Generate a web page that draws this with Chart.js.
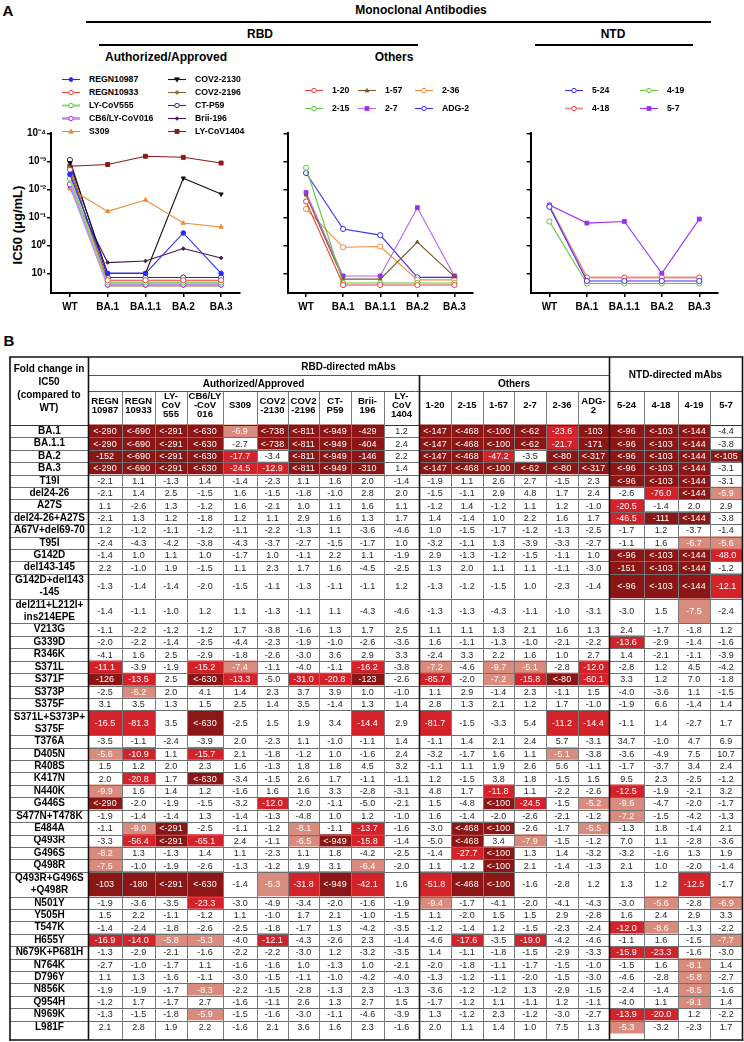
<!DOCTYPE html>
<html><head><meta charset="utf-8">
<script src="https://cdn.jsdelivr.net/npm/chart.js@4.4.1/dist/chart.umd.min.js"></script>
<style>
html,body{margin:0;padding:0;background:#fff;}
body{width:744px;height:1042px;position:relative;overflow:hidden;font-family:"Liberation Sans",Arial,sans-serif;color:#000;}
.t{position:absolute;font-weight:bold;white-space:nowrap;transform:translate(-50%,-50%);line-height:1;}
.hl{position:absolute;background:#000;height:2px;}
canvas{position:absolute;display:block;}
.leg{position:absolute;font-weight:bold;font-size:8.7px;white-space:nowrap;display:flex;align-items:center;height:10px;line-height:10px;}
.leg svg{flex:none;margin-right:9px;}
.hc{position:absolute;display:flex;align-items:center;justify-content:center;text-align:center;font-weight:bold;box-sizing:border-box;white-space:nowrap;}
</style></head><body>

<div class="t" style="left:8px;top:10px;font-size:15px;">A</div>
<div class="t" style="left:421px;top:10px;font-size:12px;">Monoclonal Antibodies</div>
<div class="hl" style="left:86px;top:21px;width:625px;"></div>
<div class="t" style="left:260px;top:34px;font-size:12px;">RBD</div>
<div class="hl" style="left:99px;top:44px;width:319px;"></div>
<div class="t" style="left:613px;top:34px;font-size:12px;">NTD</div>
<div class="hl" style="left:535px;top:44px;width:158px;"></div>
<div class="t" style="left:166px;top:57px;font-size:12px;">Authorized/Approved</div>
<div class="t" style="left:394px;top:57px;font-size:12px;">Others</div>
<div class="t" style="left:17px;top:225px;font-size:13px;transform:translate(-50%,-50%) rotate(-90deg);">IC50 (μg/mL)</div>
<div class="t" style="left:9px;top:340px;font-size:15px;">B</div>

<canvas id="c1" width="250" height="200" style="left:0;top:120px;width:250px;height:200px"></canvas>
<canvas id="c2" width="230" height="200" style="left:250px;top:120px;width:230px;height:200px"></canvas>
<canvas id="c3" width="264" height="200" style="left:480px;top:120px;width:264px;height:200px"></canvas>
<canvas id="tbl" width="744" height="695" style="left:0;top:355px;width:744px;height:695px"></canvas>

<script>
const FONT = '"Liberation Sans", Arial, Helvetica, sans-serif';
Chart.defaults.font.family = FONT;
Chart.defaults.color = '#000';

// ================= Panel A data (IC50, µg/mL) =================
const STRAINS = ['WT', 'BA.1', 'BA.1.1', 'BA.2', 'BA.3'];
const Y_TICKS = [1e-4, 1e-3, 1e-2, 1e-1, 1, 10];
const Y_TICK_LABELS = ['10\u207B\u2074', '10\u207B\u00B3', '10\u207B\u00B2', '10\u207B\u00B9', '10\u2070', '10\u00B9'];

// RBD – Authorized/Approved
const REGN10987  = [2.9e-3, 10, 10, 0.36, 10];
const REGN10933  = [2.0e-3, 17.5, 17.5, 17.5, 17.5];
const LY_COV555  = [4.1e-3, 21, 21, 21, 21];
const CB6        = [6.6e-3, 25, 25, 25, 25];
const S309       = [9.5e-3, 0.061, 0.024, 0.16, 0.22];
const COV2_2130  = [1.12e-3, 10, 10, 4.0e-3, 0.0148];
const COV2_2196  = [1.34e-3, 28, 28, 28, 28];
const CT_P59     = [8.9e-4, 14, 14, 14, 14];
const BRII_196   = [9.0e-3, 4.1, 3.6, 1.3, 2.8];
const LY_COV1404 = [1.5e-3, 1.3e-3, 6.6e-4, 7.2e-4, 1.15e-3];
// RBD – Others
const MAB_1_20 = [0.027, 26, 26, 26, 26];
const MAB_2_15 = [1.7e-3, 22, 22, 22, 22];
const MAB_1_57 = [0.016, 16, 16, 0.76, 13];
const MAB_2_7  = [0.013, 12.3, 12.3, 0.045, 12.3];
const MAB_2_36 = [0.05, 1.17, 1.1, 17, 17];
const ADG_2    = [2.6e-3, 0.26, 0.43, 13.8, 13.8];
// NTD
const MAB_5_24 = [0.042, 18.6, 18.6, 18.6, 18.6];
const MAB_4_18 = [0.039, 14, 14, 14, 14];
const MAB_4_19 = [0.14, 23, 23, 23, 23];
const MAB_5_7  = [0.036, 0.16, 0.14, 10, 0.115];

// ================= Panel B data (fold change in IC50) =================
const ANTIBODIES = [['REGN','10987'],['REGN','10933'],['LY-','CoV','555'],['CB6/LY','-CoV','016'],['S309'],
  ['COV2','-2130'],['COV2','-2196'],['CT-','P59'],['Brii-','196'],['LY-','CoV','1404'],
  ['1-20'],['2-15'],['1-57'],['2-7'],['2-36'],['ADG-','2'],['5-24'],['4-18'],['4-19'],['5-7']];
const VARIANTS = ['BA.1','BA.1.1','BA.2','BA.3','T19I','del24-26','A27S','del24-26+A27S','A67V+del69-70','T95I',
  'G142D','del143-145',['G142D+del143','-145'],['del211+L212I+','ins214EPE'],'V213G','G339D','R346K','S371L','S371F',
  'S373P','S375F',['S371L+S373P+','S375F'],'T376A','D405N','R408S','K417N','N440K','G446S','S477N+T478K','E484A',
  'Q493R','G496S','Q498R',['Q493R+G496S','+Q498R'],'N501Y','Y505H','T547K','H655Y','N679K+P681H','N764K','D796Y',
  'N856K','Q954H','N969K','L981F'];
const FOLD_OMICRON = [
  '<-290 <-690 <-291 <-630 -6.9 <-738 <-811 <-949 -429 1.2 <-147 <-468 <-100 <-62 -23.6 -103 <-96 <-103 <-144 -4.4',
  '<-290 <-690 <-291 <-630 -2.7 <-738 <-811 <-949 -404 2.4 <-147 <-468 <-100 <-62 -21.7 -171 <-96 <-103 <-144 -3.8',
  '-152 <-690 <-291 <-630 -17.7 -3.4 <-811 <-949 -146 2.2 <-147 <-468 -47.2 -3.5 <-80 <-317 <-96 <-103 <-144 <-105',
  '<-290 <-690 <-291 <-630 -24.5 -12.9 <-811 <-949 -310 1.4 <-147 <-468 <-100 <-62 <-80 <-317 <-96 <-103 <-144 -3.1'];
const FOLD_NTD = [
  '-2.1 1.1 -1.3 1.4 -1.4 -2.3 1.1 1.6 2.0 -1.4 -1.9 1.1 2.6 2.7 -1.5 2.3 <-96 <-103 <-144 -3.1',
  '-2.1 1.4 2.5 -1.5 1.6 -1.5 -1.8 -1.0 2.8 2.0 -1.5 -1.1 2.9 4.8 1.7 2.4 -2.6 -76.0 <-144 -5.9',
  '1.1 -2.6 1.3 -1.2 1.6 -2.1 1.0 1.1 1.6 1.1 -1.2 1.4 -1.2 1.1 1.2 -1.0 -20.5 -1.4 2.0 2.9',
  '-2.1 1.3 1.2 -1.8 1.2 1.1 2.9 1.6 1.3 1.7 1.4 -1.4 1.0 2.2 1.6 1.7 -46.5 -111 <-144 -3.8',
  '1.2 -1.2 -1.1 -1.2 -1.1 -2.2 -1.3 1.1 -3.6 -4.6 1.0 -1.5 -1.7 -1.2 -1.3 -2.5 -1.7 1.2 -3.7 -1.4',
  '-2.4 -4.3 -4.2 -3.8 -4.3 -3.7 -2.7 -1.5 -1.7 1.0 -3.2 -1.1 1.3 -3.9 -3.3 -2.7 -1.1 1.6 -6.7 -5.6',
  '-1.4 1.0 1.1 1.0 -1.7 1.0 -1.1 2.2 1.1 -1.9 2.9 -1.3 -1.2 -1.5 -1.1 1.0 <-96 <-103 <-144 -48.0',
  '2.2 -1.0 1.9 -1.5 1.1 2.3 1.7 1.6 -4.5 -2.5 1.3 2.0 1.1 1.1 -1.1 -3.0 -151 <-103 <-144 -1.2',
  '-1.3 -1.4 -1.4 -2.0 -1.5 -1.1 -1.3 -1.1 -1.1 1.2 -1.3 -1.2 -1.5 1.0 -2.3 -1.4 <-96 <-103 <-144 -12.1',
  '-1.4 -1.1 -1.0 1.2 1.1 -1.3 -1.1 1.1 -4.3 -4.6 -1.3 -1.3 -4.3 -1.1 -1.0 -3.1 -3.0 1.5 -7.5 -2.4',
  '-1.1 -2.2 -1.2 -1.2 1.7 -3.8 -1.6 1.3 1.7 2.5 1.1 1.1 1.3 2.1 1.6 1.3 2.4 -1.7 -1.8 1.2'];
const FOLD_RBD = [
  '-2.0 -2.2 -1.4 -2.5 -4.4 -2.3 -1.9 -1.0 -2.6 -3.6 1.6 -1.1 -1.3 -1.0 -2.1 -2.2 -13.6 -2.9 -1.4 -1.6',
  '-4.1 1.6 2.5 -2.9 -1.8 -2.6 -3.0 3.6 2.9 3.3 -2.4 3.3 2.2 1.6 1.0 2.7 1.4 -2.1 -1.1 -3.9',
  '-11.1 -3.9 -1.9 -15.2 -7.4 -1.1 -4.0 -1.1 -16.2 -3.8 -7.2 -4.6 -9.7 -5.1 -2.8 -12.0 -2.8 1.2 4.5 -4.2',
  '-126 -13.5 2.5 <-630 -13.3 -5.0 -31.0 -20.8 -123 -2.6 -85.7 -2.0 -7.2 -15.8 <-80 -60.1 3.3 1.2 7.0 -1.8',
  '-2.5 -5.2 2.0 4.1 1.4 2.3 3.7 3.9 1.0 -1.0 1.1 2.9 -1.4 2.3 -1.1 1.5 -4.0 -3.6 1.1 -1.5',
  '3.1 3.5 1.3 1.5 2.5 1.4 3.5 -1.4 1.3 1.4 2.8 1.3 2.1 1.2 1.7 -1.0 -1.9 6.6 -1.4 1.4',
  '-16.5 -81.3 3.5 <-630 -2.5 1.5 1.9 3.4 -14.4 2.9 -81.7 -1.5 -3.3 5.4 -11.2 -14.4 -1.1 1.4 -2.7 1.7',
  '-3.5 -1.1 -2.4 -3.9 2.0 -2.3 1.1 -1.0 -1.1 1.4 -1.1 1.4 2.1 2.4 5.7 -3.1 34.7 -1.0 4.7 6.9',
  '-5.6 -10.9 1.1 -15.7 2.1 -1.8 -1.2 1.0 -1.6 2.4 -3.2 -1.7 1.6 1.1 -5.1 -3.8 -3.6 -4.9 7.5 10.7',
  '1.5 1.2 2.0 2.3 1.6 -1.3 1.8 1.8 4.5 3.2 -1.1 1.1 1.9 2.6 5.6 -1.1 -1.7 -3.7 3.4 2.4',
  '2.0 -20.8 1.7 <-630 -3.4 -1.5 2.6 1.7 -1.1 -1.1 1.2 -1.5 3.8 1.8 -1.5 1.5 9.5 2.3 -2.5 -1.2',
  '-9.9 1.6 1.4 1.2 -1.6 1.6 1.6 3.3 -2.8 -3.1 4.8 1.7 -11.8 1.1 -2.2 -2.6 -12.5 -1.9 -2.1 3.2',
  '<-290 -2.0 -1.9 -1.5 -3.2 -12.0 -2.0 -1.1 -5.0 -2.1 1.5 -4.8 <-100 -24.5 -1.5 -5.2 -9.6 -4.7 -2.0 -1.7',
  '-1.9 -1.4 -1.4 1.3 -1.4 -1.3 -4.8 1.0 1.2 -1.0 1.6 -1.4 -2.0 -2.6 -2.1 -1.2 -7.2 -1.5 -4.2 -1.3',
  '-1.1 -9.0 <-291 -2.5 -1.1 -1.2 -8.1 -1.1 -13.7 -1.6 -3.0 <-468 <-100 -2.6 -1.7 -5.5 -1.3 1.8 -1.4 2.1',
  '-3.3 -56.4 <-291 -65.1 2.4 -1.1 -6.5 <-949 -15.8 -1.4 -5.0 <-468 3.4 -7.9 -1.5 -1.2 7.0 1.1 -2.8 -3.6',
  '-8.2 1.3 -1.3 1.4 1.1 -2.3 1.1 1.8 -4.2 -2.5 -1.4 -27.7 <-100 1.3 1.4 -3.2 -3.2 -1.6 1.3 1.9',
  '-7.5 -1.0 -1.9 -2.6 -1.3 -1.2 1.9 3.1 -6.4 -2.0 1.1 -1.2 <-100 2.1 -1.4 -1.3 2.1 1.0 -2.0 -1.4',
  '-103 -180 <-291 <-630 -1.4 -5.3 -31.8 <-949 -42.1 1.6 -51.8 <-468 <-100 -1.6 -2.8 1.2 1.3 1.2 -12.5 -1.7',
  '-1.9 -3.6 -3.5 -23.3 -3.0 -4.9 -3.4 -2.0 -1.6 -1.9 -9.4 -1.7 -4.1 -2.0 -4.1 -4.3 -3.0 -5.6 -2.8 -6.9',
  '1.5 2.2 -1.1 -1.2 1.1 -1.0 1.7 2.1 -1.0 -1.5 1.1 -2.0 1.5 1.5 2.9 -2.8 1.6 2.4 2.9 3.3'];
const FOLD_S2 = [
  '-1.4 -2.4 -1.8 -2.6 -2.5 -1.8 -1.7 1.3 -4.2 -3.5 -1.2 -1.4 1.2 -1.5 -2.3 -2.4 -12.0 -8.6 -1.3 -2.2',
  '-16.9 -14.0 -5.8 -5.3 -4.0 -12.1 -4.3 -2.6 2.3 -1.4 -4.6 -17.6 -3.5 -19.0 -4.2 -4.6 -1.1 1.6 -1.5 -7.7',
  '-1.3 -2.9 -2.1 -1.6 -2.2 -2.2 -3.0 1.2 -3.2 -3.5 1.4 -1.1 -1.8 -1.5 -2.9 -3.3 -15.9 -23.3 -1.6 -3.0',
  '-2.7 -1.0 -1.7 1.1 -1.6 -1.6 1.0 -1.3 1.0 -2.1 -2.0 -1.8 -1.1 -1.7 -1.5 -1.0 -1.5 1.6 -8.1 1.4',
  '1.1 1.3 -1.6 -1.1 -3.0 -1.5 -1.1 -1.0 -4.2 -4.0 -1.3 -1.2 -1.1 -2.0 -1.5 -3.0 -4.6 -2.8 -5.8 -2.7',
  '-1.9 -1.9 -1.7 -8.3 -2.2 -1.5 -2.8 -1.3 2.3 -1.3 -3.6 -1.2 -1.2 1.3 -2.9 -1.5 -2.4 -1.4 -8.5 -1.6',
  '-1.2 1.7 -1.7 2.7 -1.6 -1.1 2.6 1.3 2.7 1.5 -1.7 -1.2 1.1 -1.1 1.2 -1.1 -4.0 1.1 -9.1 1.4',
  '-1.3 -1.5 -1.8 -5.9 -1.5 -1.6 -3.0 -1.1 -4.6 -3.9 1.3 -1.2 2.3 -1.2 -3.0 -2.7 -13.9 -20.0 1.2 -2.2',
  '2.1 2.8 1.9 2.2 -1.6 2.1 3.6 1.6 2.3 -1.6 2.0 1.1 1.4 1.0 7.5 1.3 -5.3 -3.2 -2.3 1.7'];

// ================= styles / layout =================
const AUTH_SERIES = [
  {label:'REGN10987', data:REGN10987, color:'#2a2aff', shape:'circle', filled:true, r:2.3},
  {label:'REGN10933', data:REGN10933, color:'#e8403e', shape:'circle'},
  {label:'LY-CoV555', data:LY_COV555, color:'#55c83a', line:'#86d96a', lw:2, shape:'circle'},
  {label:'CB6/LY-CoV016', data:CB6, color:'#9b30f0', line:'#c48af5', lw:2.6, shape:'circle'},
  {label:'S309', data:S309, color:'#f08a2c', shape:'triangle', filled:true, r:2.4},
  {label:'COV2-2130', data:COV2_2130, color:'#111111', shape:'triangle', rot:180, filled:true, r:2.4},
  {label:'COV2-2196', data:COV2_2196, color:'#8a6a2c', shape:'rectRot', filled:true, r:2},
  {label:'CT-P59', data:CT_P59, color:'#2c2f8c', shape:'circle'},
  {label:'Brii-196', data:BRII_196, color:'#4a1450', shape:'rectRot', filled:true, r:1.8},
  {label:'LY-CoV1404', data:LY_COV1404, color:'#8b1a1a', shape:'rect', filled:true, r:2.8}];
const OTHER_SERIES = [
  {label:'1-20', data:MAB_1_20, color:'#e8403e', shape:'circle'},
  {label:'2-15', data:MAB_2_15, color:'#62c83c', shape:'circle'},
  {label:'1-57', data:MAB_1_57, color:'#7a5a28', shape:'triangle', filled:true, r:2},
  {label:'2-7', data:MAB_2_7, color:'#9b30f0', line:'#b466f5', shape:'rect', filled:true, r:2.7},
  {label:'2-36', data:MAB_2_36, color:'#f08a3c', shape:'circle'},
  {label:'ADG-2', data:ADG_2, color:'#3a2ff0', shape:'circle'}];
const NTD_SERIES = [
  {label:'5-24', data:MAB_5_24, color:'#3a2ff0', shape:'circle'},
  {label:'4-18', data:MAB_4_18, color:'#e8403e', line:'#f08a8a', lw:1.8, shape:'circle'},
  {label:'4-19', data:MAB_4_19, color:'#62c83c', shape:'circle'},
  {label:'5-7', data:MAB_5_7, color:'#9b30f0', shape:'rect', filled:true, r:2.7}];

function lineChart(id, series, yW, padR, showLabels){
  return new Chart(document.getElementById(id), {
    type:'line',
    data:{labels:STRAINS, datasets:series.map(s=>({
      label:s.label, data:s.data, borderColor:s.line||s.color, borderWidth:s.lw||1.1,
      pointStyle:s.shape, pointRotation:s.rot||0, pointRadius:s.r||2.6,
      pointBorderColor:s.color, pointBackgroundColor:s.filled?s.color:'#ffffff', pointBorderWidth:1,
      tension:0, clip:false}))},
    options:{responsive:false, animation:false, devicePixelRatio:1,
      layout:{padding:{top:13.3, right:padR, left:0, bottom:0}},
      plugins:{legend:{display:false}, tooltip:{enabled:false}},
      scales:{
        x:{type:'category', offset:true,
          grid:{display:true, drawOnChartArea:false, drawTicks:true, tickLength:4, color:'#000', lineWidth:1.5},
          border:{display:true, color:'#000', width:2},
          ticks:{color:'#000', font:{family:FONT, weight:'bold', size:10}, padding:4, maxRotation:0, autoSkip:false},
          afterFit:s=>{s.height=27;}},
        y:{type:'logarithmic', reverse:true, min:1e-4, max:50,
          afterBuildTicks:s=>{s.ticks=Y_TICKS.map(v=>({value:v}));},
          grid:{display:true, drawOnChartArea:false, drawTicks:true, tickLength:4, color:'#000', lineWidth:1.5},
          border:{display:true, color:'#000', width:2},
          ticks:{display:showLabels, color:'#000', font:{family:FONT, weight:'bold', size:10}, padding:1,
            callback:(v,i)=>Y_TICK_LABELS[i]},
          afterFit:s=>{s.width=yW;}}
      }}
  });
}
lineChart('c1', AUTH_SERIES, 51, 10, true);
lineChart('c2', OTHER_SERIES, 37.5, 7, false);
lineChart('c3', NTD_SERIES, 50.7, 26, false);

// ---- HTML legends built from the series definitions ----
function markerSVG(s){
  const c=s.color, f=s.filled?c:'#fff', lc=s.line||c, lw=Math.max(s.lw||1.1,1.1);
  const cx=9, cy=4.5, r=s.r||2.6;
  let m='';
  if(s.shape==='circle') m=`<circle cx="${cx}" cy="${cy}" r="${r-0.4}" fill="${f}" stroke="${c}" stroke-width="1"/>`;
  else if(s.shape==='rect'){const h=r*0.72; m=`<rect x="${cx-h}" y="${cy-h}" width="${2*h}" height="${2*h}" fill="${f}" stroke="${c}" stroke-width="0.8"/>`;}
  else if(s.shape==='rectRot') m=`<polygon points="${cx},${cy-r} ${cx+r},${cy} ${cx},${cy+r} ${cx-r},${cy}" fill="${f}" stroke="${c}" stroke-width="0.8"/>`;
  else if(s.shape==='triangle'){const d=s.rot?-1:1; m=`<polygon points="${cx},${cy-d*r} ${cx+r},${cy+d*r*0.7} ${cx-r},${cy+d*r*0.7}" fill="${f}" stroke="${c}" stroke-width="0.8"/>`;}
  return `<svg width="18" height="9" viewBox="0 0 18 9"><line x1="0" y1="${cy}" x2="18" y2="${cy}" stroke="${lc}" stroke-width="${lw}"/>${m}</svg>`;
}
function legend(series, colsX, rowsY){
  const nRows=rowsY.length;
  series.forEach((s,i)=>{
    const col=Math.floor(i/nRows), row=i%nRows;
    const d=document.createElement('div'); d.className='leg';
    d.style.left=colsX[col]+'px'; d.style.top=(rowsY[row]-5)+'px';
    d.innerHTML=markerSVG(s); const sp=document.createElement('span'); sp.textContent=s.label; d.appendChild(sp);
    document.body.appendChild(d);
  });
}
legend(AUTH_SERIES, [62,168], [79,92,105,118,131]);
legend(OTHER_SERIES, [305,358,415], [90,108]);
legend(NTD_SERIES, [565,640], [90,108]);

// ================= Panel B: table as floating bar chart =================
const COL_W = [34,33,32,36,34,31,31,32,33,35,32,32,31,32,32,31,35,34,32,32]; // layout widths
const CANVAS_TOP = 355, TABLE_LEFT = 10;
const HDR_TOP = 357, HDR_MID1 = 375, HDR_MID2 = 391;
const DARK='#8c1616', RED='#d3222a', SALMON='#d98b7e', WHITE='#ffffff';
function cellColor(s){
  if(s[0]==='<') return DARK;
  const v=parseFloat(s);
  if(v<=-100) return DARK; if(v<=-10) return RED; if(v<=-5.05) return SALMON; return WHITE;
}
const FOLD = [...FOLD_OMICRON, ...FOLD_NTD, ...FOLD_RBD, ...FOLD_S2].map(r=>r.trim().split(/\s+/));
const edges=[0]; COL_W.forEach(w=>edges.push(edges[edges.length-1]+w));
const rowStart=[]; let UNITS=0;
VARIANTS.forEach(v=>{rowStart.push(UNITS); UNITS+=Array.isArray(v)?2:1;});
const rowCenter=rowStart.map((s,i)=>s+(Array.isArray(VARIANTS[i])?1:0.5));

const tableDatasets = ANTIBODIES.map((ab,c)=>{
  const data=[];
  FOLD.forEach((row,r)=>{
    const span=Array.isArray(VARIANTS[r])?2:1;
    for(let k=0;k<span;k++) data.push({y:rowStart[r]+k+0.5, x:[edges[c],edges[c+1]], v:row[c]});
  });
  return {label:ab.join(''), data, grouped:false, barPercentage:1, categoryPercentage:1, borderWidth:0,
    backgroundColor:ctx=>ctx.raw?cellColor(ctx.raw.v):WHITE};
});

const tablePlugin = {id:'tableDecor', afterDatasetsDraw(chart){
  const {ctx, chartArea:a, scales:{x,y}} = chart;
  ctx.save();
  // cell values
  ctx.font='9px '+FONT; ctx.textAlign='center'; ctx.textBaseline='middle';
  FOLD.forEach((row,r)=>{
    const cy=y.getPixelForValue(rowCenter[r]);
    row.forEach((v,c)=>{
      const cx=x.getPixelForValue((edges[c]+edges[c+1])/2);
      ctx.fillStyle = cellColor(v)===WHITE ? '#1e1e1e' : '#ffffff';
      ctx.fillText(v, cx, cy+0.5);
    });
  });
  const P=v=>Math.round(v)+0.5;
  function line(x1,y1,x2,y2,w,col){ctx.beginPath();ctx.lineWidth=w;ctx.strokeStyle=col;ctx.moveTo(x1,y1);ctx.lineTo(x2,y2);ctx.stroke();}
  const top=HDR_TOP-CANVAS_TOP, m1=HDR_MID1-CANVAS_TOP, m2=HDR_MID2-CANVAS_TOP;
  const ex=i=>P(x.getPixelForValue(edges[i]));
  // row lines
  const bounds=[...rowStart, UNITS];
  bounds.forEach((b,i)=>{
    const py=P(y.getPixelForValue(b));
    if(i===bounds.length-1) return;
    line(TABLE_LEFT, py, a.right, py, 1, i===0?'#333':'#6e6e6e');
  });
  // column lines
  for(let i=1;i<20;i++){ if(i===10||i===16) continue; line(ex(i), m2, ex(i), a.bottom, 1, '#7a7a7a'); }
  // header lines
  line(ex(0), P(m1), ex(16), P(m1), 1, '#555');
  line(ex(0), P(m2), ex(20), P(m2), 1, '#555');
  // thick lines
  line(ex(10), m1, ex(10), a.bottom, 1.6, '#111');
  line(ex(16), top, ex(16), a.bottom, 1.6, '#111');
  line(ex(0), top, ex(0), a.bottom, 1.6, '#111');
  line(TABLE_LEFT, top, TABLE_LEFT, a.bottom+0.8, 1.6, '#111');
  line(ex(20), top, ex(20), a.bottom+0.8, 1.6, '#111');
  line(TABLE_LEFT-0.8, top, ex(20)+0.8, top, 1.6, '#111');
  line(TABLE_LEFT-0.8, a.bottom, ex(20)+0.8, a.bottom, 1.6, '#111');
  ctx.restore();
}};

const tableChart = new Chart(document.getElementById('tbl'), {
  type:'bar',
  data:{datasets:tableDatasets},
  options:{indexAxis:'y', responsive:false, animation:false, devicePixelRatio:1,
    layout:{padding:{top:63, bottom:10, right:2, left:0}},
    plugins:{legend:{display:false}, tooltip:{enabled:false}},
    scales:{
      x:{type:'linear', min:0, max:edges[edges.length-1], display:false},
      y:{type:'linear', min:0, max:UNITS, reverse:true,
        afterBuildTicks:s=>{s.ticks=rowCenter.map(v=>({value:v}));},
        afterFit:s=>{s.width=88;},
        grid:{display:false, drawTicks:false}, border:{display:false},
        ticks:{autoSkip:false, crossAlign:'center', padding:3, color:'#000',
          font:{family:FONT, weight:'bold', size:10, lineHeight:1.2},
          callback:(v,i)=>VARIANTS[i]}}
    }},
  plugins:[tablePlugin]
});

// ---- table header (HTML text placed on the table's x scale) ----
const xs=tableChart.scales.x;
const px=e=>xs.getPixelForValue(e);
function hcell(x1,y1,x2,y2,lines,size,lh){
  const d=document.createElement('div'); d.className='hc';
  Object.assign(d.style,{left:x1+'px',top:y1+'px',width:(x2-x1)+'px',height:(y2-y1)+'px',fontSize:size+'px',lineHeight:lh+'px'});
  const inner=document.createElement('div');
  lines.forEach((t,i)=>{ if(i) inner.appendChild(document.createElement('br')); inner.appendChild(document.createTextNode(t)); });
  d.appendChild(inner); document.body.appendChild(d);
}
hcell(TABLE_LEFT, HDR_TOP, px(0), tableChart.chartArea.top+CANVAS_TOP, ['Fold change in','IC50','(compared to','WT)'], 10, 13);
hcell(px(0), HDR_TOP, px(edges[16]), HDR_MID1, ['RBD-directed mAbs'], 10, 11);
hcell(px(edges[16]), HDR_TOP, px(edges[20]), HDR_MID2, ['NTD-directed mAbs'], 10, 11);
hcell(px(0), HDR_MID1, px(edges[10]), HDR_MID2, ['Authorized/Approved'], 10, 11);
hcell(px(edges[10]), HDR_MID1, px(edges[16]), HDR_MID2, ['Others'], 10, 11);
ANTIBODIES.forEach((ab,c)=>hcell(px(edges[c]), HDR_MID2, px(edges[c+1]), tableChart.chartArea.top+CANVAS_TOP, ab, 9.5, 9));
</script>
</body></html>
